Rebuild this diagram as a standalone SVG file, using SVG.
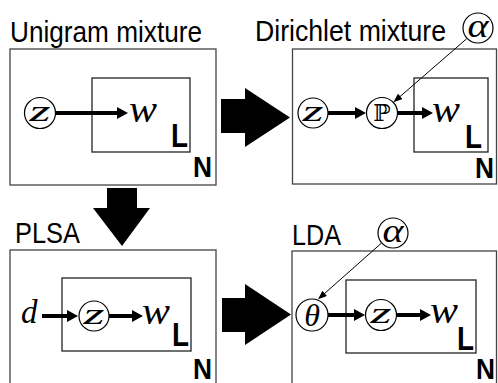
<svg xmlns="http://www.w3.org/2000/svg" width="498" height="383" viewBox="0 0 498 383">
<style>
.bg{fill:#fff}
.outer{fill:none;stroke:#444;stroke-width:1.3}
.inner{fill:none;stroke:#222;stroke-width:1.3}
.title{font-family:"Liberation Sans",Arial,sans-serif;font-size:29px;fill:#000}
.plate{font-family:"Liberation Sans",Arial,sans-serif;font-weight:bold;fill:#000}
.var{font-family:"Liberation Serif","Times New Roman",serif;font-style:italic;fill:#000}
.node{fill:#fff;stroke:#000;stroke-width:1.2}
.thick{stroke:#000;stroke-width:4;fill:none}
.thin{stroke:#000;stroke-width:1;fill:none}
.big{fill:#000}
</style>
<defs>
<marker id="hd" markerUnits="userSpaceOnUse" markerWidth="11" markerHeight="12" refX="1" refY="6" orient="auto">
<path d="M0,0 L11,6 L0,12 z" fill="#000"/>
</marker>
<marker id="hs" markerUnits="userSpaceOnUse" markerWidth="9" markerHeight="7" refX="1" refY="3.5" orient="auto">
<path d="M0,0 L9,3.5 L0,7 z" fill="#000"/>
</marker>
</defs>
<rect class="bg" x="0" y="0" width="498" height="383"/>

<g id="unigram">
<text class="title" x="10" y="42" textLength="192" lengthAdjust="spacingAndGlyphs">Unigram mixture</text>
<rect class="outer" x="10" y="49" width="206" height="136"/>
<rect class="inner" x="92" y="78" width="98" height="74"/>
<text class="plate" x="171" y="147" font-size="34" textLength="17" lengthAdjust="spacingAndGlyphs">L</text>
<text class="plate" x="193" y="177" font-size="29" textLength="19" lengthAdjust="spacingAndGlyphs">N</text>
</g>
<g id="u-z"><circle class="node" cx="40" cy="113" r="15.5"/><text class="var" x="40" y="121" font-size="30" text-anchor="middle" textLength="21" lengthAdjust="spacingAndGlyphs">z</text></g>
<g id="u-w"><text class="var" x="129" y="122" font-size="38" textLength="28" lengthAdjust="spacingAndGlyphs">w</text></g>

<g id="dirichlet">
<text class="title" x="255" y="41" textLength="191" lengthAdjust="spacingAndGlyphs">Dirichlet mixture</text>
<rect class="outer" x="292.5" y="49" width="204" height="135"/>
<rect class="inner" x="414" y="78" width="74" height="74"/>
<text class="plate" x="465" y="148" font-size="34" textLength="17" lengthAdjust="spacingAndGlyphs">L</text>
<text class="plate" x="475" y="178" font-size="29" textLength="19" lengthAdjust="spacingAndGlyphs">N</text>
</g>
<g id="d-alpha"><circle class="node" cx="478" cy="28" r="15"/><text class="var" x="478" y="37" font-size="34" text-anchor="middle" textLength="21" lengthAdjust="spacingAndGlyphs">α</text></g>
<g id="d-z"><circle class="node" cx="313" cy="113" r="15"/><text class="var" x="313" y="121" font-size="30" text-anchor="middle" textLength="21" lengthAdjust="spacingAndGlyphs">z</text></g>
<g id="d-p"><circle class="node" cx="382" cy="113" r="15.5"/><text x="382" y="121" font-size="23" text-anchor="middle" fill="#000" font-family="'DejaVu Serif','DejaVu Sans',serif">ℙ</text></g>
<g id="d-w"><text class="var" x="432" y="122" font-size="38" textLength="28" lengthAdjust="spacingAndGlyphs">w</text></g>

<g id="plsa">
<text class="title" x="15" y="243" textLength="65" lengthAdjust="spacingAndGlyphs">PLSA</text>
<rect class="outer" x="10" y="250" width="206" height="140"/>
<rect class="inner" x="62" y="278" width="129" height="73"/>
<text class="plate" x="172" y="346" font-size="34" textLength="17" lengthAdjust="spacingAndGlyphs">L</text>
<text class="plate" x="193" y="379" font-size="29" textLength="19" lengthAdjust="spacingAndGlyphs">N</text>
</g>
<g id="p-d"><text class="var" x="21" y="323" font-size="33">d</text></g>
<g id="p-z"><circle class="node" cx="94" cy="316" r="15"/><text class="var" x="94" y="324" font-size="30" text-anchor="middle" textLength="21" lengthAdjust="spacingAndGlyphs">z</text></g>
<g id="p-w"><text class="var" x="142" y="324" font-size="38" textLength="28" lengthAdjust="spacingAndGlyphs">w</text></g>

<g id="lda">
<text class="title" x="292" y="245" textLength="49" lengthAdjust="spacingAndGlyphs">LDA</text>
<rect class="outer" x="292" y="251" width="204.5" height="140"/>
<rect class="inner" x="346" y="280" width="130" height="73"/>
<text class="plate" x="457" y="350" font-size="34" textLength="17" lengthAdjust="spacingAndGlyphs">L</text>
<text class="plate" x="476" y="379" font-size="29" textLength="19" lengthAdjust="spacingAndGlyphs">N</text>
</g>
<g id="l-alpha"><circle class="node" cx="393" cy="233" r="15"/><text class="var" x="393" y="242" font-size="34" text-anchor="middle" textLength="21" lengthAdjust="spacingAndGlyphs">α</text></g>
<g id="l-theta"><circle class="node" cx="312" cy="315" r="16"/><text class="var" x="312" y="326" font-size="32" text-anchor="middle">θ</text></g>
<g id="l-z"><circle class="node" cx="381" cy="315" r="15.5"/><text class="var" x="381" y="323" font-size="30" text-anchor="middle" textLength="21" lengthAdjust="spacingAndGlyphs">z</text></g>
<g id="l-w"><text class="var" x="430" y="323" font-size="38" textLength="28" lengthAdjust="spacingAndGlyphs">w</text></g>

<g id="connectors">
<line class="thick" x1="56" y1="113" x2="118" y2="113" marker-end="url(#hd)"/>
<line class="thick" x1="328" y1="113" x2="356" y2="113" marker-end="url(#hd)"/>
<line class="thick" x1="397.5" y1="113" x2="423" y2="113" marker-end="url(#hd)"/>
<line class="thin" x1="466.6" y1="38.8" x2="399.5" y2="97" marker-end="url(#hs)"/>
<line class="thick" x1="42" y1="316" x2="68" y2="316" marker-end="url(#hd)"/>
<line class="thick" x1="109" y1="316" x2="133" y2="316" marker-end="url(#hd)"/>
<line class="thick" x1="328" y1="315" x2="355" y2="315" marker-end="url(#hd)"/>
<line class="thick" x1="396.5" y1="315" x2="421" y2="315" marker-end="url(#hd)"/>
<line class="thin" x1="381.7" y1="242.9" x2="324" y2="294" marker-end="url(#hs)"/>
<polygon class="big" points="221,99 245,99 245,88 290,117.5 245,147 245,133 221,133"/>
<polygon class="big" points="222,298 245,298 245,284 291,314.5 245,345 245,332 222,332"/>
<polygon class="big" points="107,188 137,188 137,208 150,208 122,246 93,208 107,208"/>
</g>
</svg>
